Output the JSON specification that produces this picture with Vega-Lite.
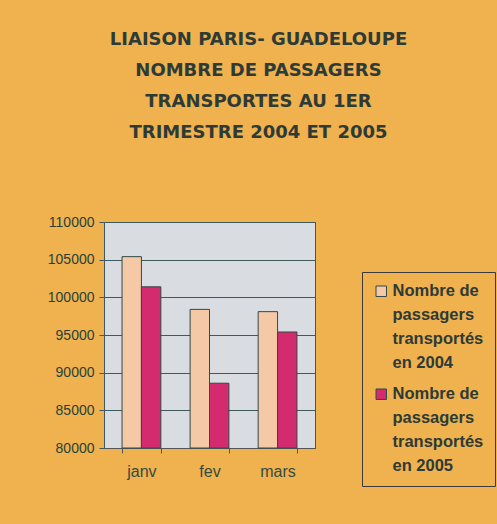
{
  "$schema": "https://vega.github.io/schema/vega-lite/v6.json",
  "autosize": "none",
  "width": 211,
  "height": 226,
  "padding": {"left": 104, "top": 222, "right": 182, "bottom": 76},
  "background": "#EFB24E",
  "title": {
    "text": ["LIAISON PARIS- GUADELOUPE", "NOMBRE DE PASSAGERS", "TRANSPORTES AU 1ER", "TRIMESTRE 2004 ET 2005"],
    "font": "DejaVu Sans",
    "fontSize": 18,
    "fontWeight": "bold",
    "color": "#2E3A36",
    "lineHeight": 31,
    "anchor": "middle",
    "frame": "group",
    "dx": 49,
    "offset": 73
  },
  "data": {
    "values": [
      {"mois": "janv", "serie": "Nombre de|passagers|transportés|en 2004", "passagers": 105400},
      {"mois": "janv", "serie": "Nombre de|passagers|transportés|en 2005", "passagers": 101400},
      {"mois": "fev", "serie": "Nombre de|passagers|transportés|en 2004", "passagers": 98400},
      {"mois": "fev", "serie": "Nombre de|passagers|transportés|en 2005", "passagers": 88600},
      {"mois": "mars", "serie": "Nombre de|passagers|transportés|en 2004", "passagers": 98100},
      {"mois": "mars", "serie": "Nombre de|passagers|transportés|en 2005", "passagers": 95400}
    ]
  },
  "mark": {"type": "bar", "stroke": "#2F4A48", "strokeWidth": 1},
  "encoding": {
    "x": {
      "field": "mois", "type": "nominal", "sort": ["janv", "fev", "mars"],
      "scale": {"paddingInner": 0.43, "paddingOuter": 0.265},
      "axis": {"title": null, "labelAngle": 0, "labelFont": "Liberation Sans", "labelFontSize": 16, "labelColor": "#354A44", "labelPadding": 10, "domainColor": "#555", "tickColor": "#555", "ticks": true, "tickBand": "extent", "tickSize": 5}
    },
    "xOffset": {"field": "serie", "type": "nominal"},
    "y": {
      "field": "passagers", "type": "quantitative",
      "scale": {"domain": [80000, 110000], "zero": false},
      "axis": {"title": null, "values": [80000, 85000, 90000, 95000, 100000, 105000, 110000], "format": "d", "labelFont": "Liberation Sans", "labelFontSize": 14, "labelColor": "#2A4038", "labelPadding": 5, "domainColor": "#3E5A5C", "tickColor": "#3E5A5C", "tickSize": 5, "gridColor": "#3E5A5C", "gridWidth": 1}
    },
    "y2": {"datum": 80000},
    "color": {
      "field": "serie", "type": "nominal",
      "scale": {"range": ["#F5C8A6", "#D42A6E"]},
      "legend": {
        "title": null,
        "orient": "none",
        "legendX": 258,
        "legendY": 50,
        "strokeColor": "#3A3A3A",
        "padding": 11,
        "symbolType": "square",
        "symbolSize": 110,
        "symbolStrokeColor": "#2F4A48",
        "symbolStrokeWidth": 1,
        "labelFont": "Liberation Sans",
        "labelFontSize": 16.5,
        "labelFontWeight": "bold",
        "labelColor": "#2E3A36",
        "labelLimit": 200,
        "labelOffset": 3,
        "rowPadding": 14,
        "labelExpr": "split(datum.label, '|')"
      }
    }
  },
  "config": {
    "view": {"fill": "#D9DCE1", "stroke": "#3E5A5C"},
    "style": {"guide-label": {"lineHeight": 24}}
  }
}
